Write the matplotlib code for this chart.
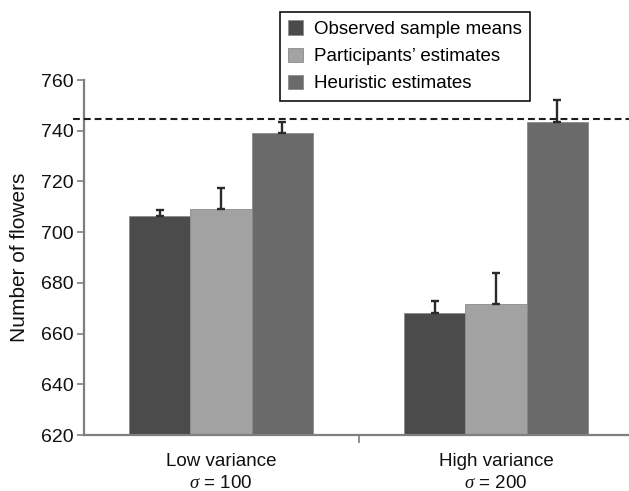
import numpy as np
import matplotlib
matplotlib.use("Agg")
import matplotlib.pyplot as plt

# ---------------------------------------------------------
# Data
# ---------------------------------------------------------

conditions = ["Low variance\n$\\sigma$ = 100", "High variance\n$\\sigma$ = 200"]
series_names = ["Observed sample means", "Participants\u2019 estimates", "Heuristic estimates"]

observed = [706.5, 668.0]
observed_err = [2.2, 4.8]

participants = [709.0, 671.5]
participants_err = [8.5, 12.3]

heuristic = [739.0, 743.5]
heuristic_err = [4.3, 8.5]

true_mean = 744.5

y_ticks = [620, 640, 660, 680, 700, 720, 740, 760]

# ---------------------------------------------------------
# Style
# ---------------------------------------------------------

plt.rcParams["font.family"] = ["Liberation Sans", "DejaVu Sans"]
plt.rcParams["mathtext.fontset"] = "custom"
plt.rcParams["mathtext.it"] = "Liberation Serif:italic"
plt.rcParams["mathtext.rm"] = "Liberation Sans"

colors = ["#4b4b4b", "#a2a2a2", "#6a6a6a"]
axis_grey = "#7f7f7f"

# ---------------------------------------------------------
# Figure
# ---------------------------------------------------------

fig = plt.figure(figsize=(6.29, 4.91), dpi=100)
W, H = 629, 491
# axes spans two category slots; right edge runs past the image like the original
ax = fig.add_axes([83.5 / W, (H - 435) / H, 550 / W, (435 - 80) / H])

x = np.array([0.5, 1.5])
bw = 0.2235

all_vals = [observed, participants, heuristic]
all_errs = [observed_err, participants_err, heuristic_err]

for i, (vals, errs) in enumerate(zip(all_vals, all_errs)):
    pos = x + (i - 1) * bw
    ax.bar(pos, np.array(vals) - 620, bottom=620, width=bw, color=colors[i],
           edgecolor="#8a8a8a", linewidth=0.6, label=series_names[i], zorder=2)
    ax.errorbar(pos, vals, yerr=[np.zeros(len(errs)), errs], fmt="none",
                ecolor="#2a2a2a", elinewidth=1.7, capsize=3, capthick=1.7, zorder=3)

ax.axhline(true_mean, xmin=-0.02, xmax=1, color="#1e1e1e", linestyle=(0, (3.3, 1.9)),
           linewidth=1.5, clip_on=False, zorder=4)

ax.set_xlim(0, 2)
ax.set_ylim(620, 760)

ax.spines["top"].set_visible(False)
ax.spines["right"].set_visible(False)
ax.spines["left"].set_color(axis_grey)
ax.spines["bottom"].set_color(axis_grey)
ax.spines["left"].set_linewidth(1.6)
ax.spines["bottom"].set_linewidth(1.6)

ax.set_yticks(y_ticks)
ax.tick_params(axis="y", direction="out", length=5, width=1.2, color=axis_grey,
               labelsize=14, pad=2, labelcolor="#111111")

ax.set_xticks([1.0])
ax.set_xticklabels([""])
ax.tick_params(axis="x", which="major", direction="out", length=6, width=1.2, color=axis_grey)

ax.set_xticks(x, conditions, minor=True)
ax.tick_params(axis="x", which="minor", length=0, pad=13, labelsize=13.5, labelcolor="#111111")
for lab in ax.get_xticklabels(minor=True):
    lab.set_linespacing(1.4)

ax.set_ylabel("Number of flowers", fontsize=15, color="#111111", labelpad=9)

leg = ax.legend(loc="upper left", bbox_to_anchor=(280 / W, 1 - 12 / H),
                bbox_transform=fig.transFigure, fontsize=13.5, frameon=True,
                fancybox=False, edgecolor="#111111", framealpha=1,
                handlelength=0.8, handleheight=0.8, handletextpad=0.55,
                labelspacing=0.5, borderpad=0.45, borderaxespad=0)
leg.get_frame().set_linewidth(1.2)

plt.savefig("out.png", dpi=100)
